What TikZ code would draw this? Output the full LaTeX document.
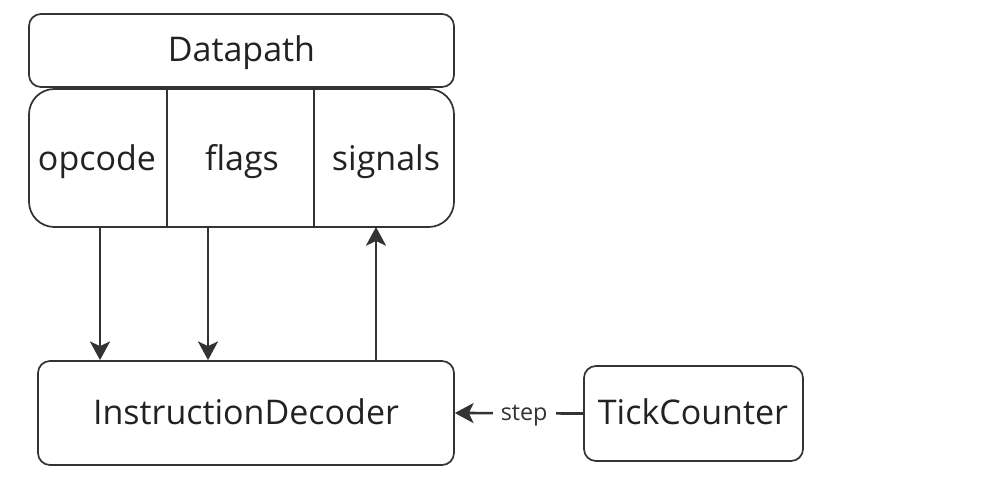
\documentclass[tikz,border=0pt]{standalone}
\usepackage{fontspec}
\setmainfont{Open Sans}
\usetikzlibrary{arrows.meta}
\definecolor{ln}{HTML}{333333}
\definecolor{tx}{HTML}{222222}
\begin{document}
\begin{tikzpicture}[x=0.75pt,y=-0.75pt,
  box/.style={draw=ln, line width=1.3pt, rounded corners=9pt, inner sep=0pt, text=tx, font=\fontsize{25.5}{30}\selectfont},
  cell/.style={inner sep=0pt, text=tx, font=\fontsize{25.5}{30}\selectfont},
  arr/.style={draw=ln, line width=2pt, -{Stealth[length=14pt,width=15pt,inset=3.5pt]}},
  lbl/.style={fill=white, text=ln, inner xsep=6pt, inner ysep=2pt, font=\fontsize{17.5}{20}\selectfont}]
\useasboundingbox (0,0) rectangle (982,492);
\node[box, minimum width=425*0.75pt, minimum height=73*0.75pt] (dp) at (241.5,50.5) {};
\node[cell, anchor=base] (dpt) at (241.5,62) {Datapath};
\node[box, rounded corners=19pt, minimum width=425*0.75pt, minimum height=138*0.75pt] (blk) at (241.5,158) {};
\draw[ln, line width=1.3pt] (167,89) -- (167,227) (314,89) -- (314,227);
\node[cell, anchor=base] (op) at (97,170) {opcode};
\node[cell, anchor=base] (fl) at (242,170) {flags};
\node[cell, anchor=base] (sg) at (386,170) {signals};
\node[box, minimum width=416*0.75pt, minimum height=104*0.75pt] (dec) at (246,413) {};
\node[cell, anchor=base] (dect) at (246,424) {InstructionDecoder};
\node[box, minimum width=219*0.75pt, minimum height=95*0.75pt] (tc) at (693.5,413.5) {};
\node[cell, anchor=base] (tct) at (693,424) {TickCounter};
\coordinate (opb) at (100,227);
\coordinate (flb) at (208,227);
\coordinate (sgb) at (376,227);
\draw[arr] (opb) -- (opb |- dec.north);
\draw[arr] (flb) -- (flb |- dec.north);
\draw[arr] (sgb |- dec.north) -- (sgb);
\draw[arr] (tc.west) -- node[lbl, pos=0.46, yshift=-2pt] {step} (dec.east);
\end{tikzpicture}
\end{document}
